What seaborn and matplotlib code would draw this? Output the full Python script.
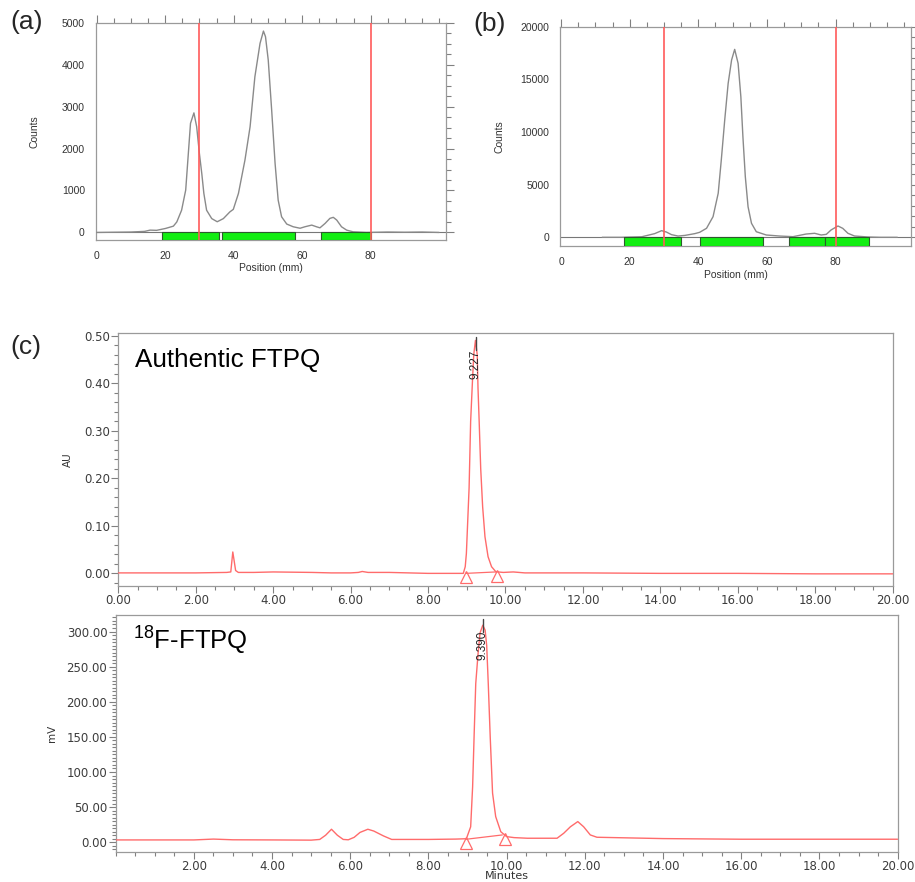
import numpy as np
import pandas as pd
import matplotlib
matplotlib.use("Agg")
import matplotlib.pyplot as plt
import seaborn as sns
from matplotlib.ticker import MultipleLocator, FixedLocator, FuncFormatter

# ---------------- data ----------------
# (a) radio-TLC scan
pos_a = [0, 5, 10, 14, 15.6, 17.5, 20.1, 22.4, 23.4, 24.8, 26.0, 27.4, 28.4, 29.2, 30.0,
         30.7, 31.3, 32.1, 33.6, 35.2, 37.0, 38.9, 39.9, 41.4, 43.3, 44.8, 46.2, 47.7,
         48.7, 49.3, 50.1, 51.1, 52.1, 53.0, 54.0, 55.5, 57.4, 59.4, 60.8, 62.8, 64.2,
         65.2, 66.7, 68.1, 69.1, 70.1, 71.5, 73.0, 74.9, 78.8, 85, 90, 95, 100]
counts_a = [0, 5, 10, 25, 55, 50, 95, 150, 250, 530, 1010, 2600, 2850, 2520, 1880,
            1400, 930, 530, 330, 255, 330, 490, 550, 930, 1725, 2520, 3710, 4505,
            4800, 4666, 4110, 2917, 1645, 770, 373, 200, 135, 100, 135, 175, 135,
            110, 215, 335, 360, 295, 135, 55, 15, 0, 10, 5, 10, 0]
bars_a_start = [19.1, 36.6, 65.4]
bars_a_end = [35.6, 58.0, 80.2]
red_a = [30, 80]

# (b) radio-TLC scan
pos_b = [12, 17.6, 23.5, 27.3, 29.3, 30.7, 32.2, 34.1, 36.1, 39.0, 40.4, 42.4, 44.3,
         45.8, 46.7, 47.7, 48.7, 49.7, 50.6, 51.6, 52.4, 53.0, 53.7, 54.5, 55.5, 56.9,
         59.8, 63.7, 67.6, 71.4, 73.9, 75.8, 77.3, 78.7, 80.7, 82.1, 83.6, 85.5, 89.4,
         93, 98]
counts_b = [0, 0, 50, 350, 630, 500, 250, 120, 180, 350, 475, 855, 1960, 4180, 7340,
            11140, 14620, 16840, 17850, 16520, 13350, 9550, 5760, 2900, 1330, 530, 220,
            120, 60, 310, 380, 220, 280, 700, 1075, 850, 380, 125, 30, 0, 0]
bars_b_start = [18.4, 40.6, 66.5, 77.0]
bars_b_end = [34.9, 58.9, 76.8, 89.6]
red_b = [30, 80]

tlc_xticks = [0, 20, 40, 60, 80]

# (c) HPLC, authentic FTPQ (UV)
t_auth = [0, 1, 2, 2.8, 2.905, 2.957, 3.0, 3.03, 3.10, 3.5, 4.0, 5.0, 5.5, 6.0, 6.2,
          6.3, 6.45, 7.0, 7.5, 8.0, 8.5, 8.91, 8.96, 8.99, 9.06, 9.10, 9.15, 9.18,
          9.224, 9.27, 9.29, 9.32, 9.36, 9.41, 9.47, 9.55, 9.64, 9.75, 9.94, 10.2,
          10.5, 12, 14, 16, 18, 20]
au = [0.001, 0.001, 0.001, 0.002, 0.003, 0.045, 0.022, 0.006, 0.002, 0.002, 0.003,
      0.002, 0.001, 0.001, 0.002, 0.004, 0.002, 0.002, 0.001, 0.0, 0.0, 0.0, 0.014,
      0.042, 0.18, 0.32, 0.41, 0.46, 0.49, 0.46, 0.39, 0.32, 0.22, 0.14, 0.077, 0.035,
      0.014, 0.0035, 0.002, 0.003, 0.001, 0.001, 0.0, 0.0, -0.001, -0.001]
auth_peak_rt = 9.227
auth_tri_x = [8.97, 9.78]
auth_tri_y = [-0.0084, -0.0056]
auth_base_x = [8.97, 9.75]
auth_base_y = [0.0, 0.003]
auth_yticks = [0.00, 0.10, 0.20, 0.30, 0.40, 0.50]

# (c) HPLC, 18F-FTPQ (radio)
t_rad = [0, 2.0, 2.5, 3.0, 4.0, 5.0, 5.22, 5.37, 5.52, 5.67, 5.82, 5.95, 6.1, 6.25,
         6.45, 6.6, 6.85, 7.06, 8.0, 8.7, 8.97, 9.08, 9.13, 9.17, 9.21, 9.27, 9.32,
         9.39, 9.45, 9.49, 9.53, 9.58, 9.64, 9.72, 9.85, 10.0, 10.19, 10.53, 11.29,
         11.46, 11.63, 11.82, 11.97, 12.14, 12.31, 14, 16, 18, 20]
mv = [3.3, 3.3, 4.5, 3.5, 3.3, 3.0, 4.0, 10, 18.5, 10, 4, 3.5, 7, 14, 18.5, 16, 9,
      4, 4, 4.5, 5, 22, 79, 155, 226, 269, 298, 309, 302, 280, 226, 150, 70, 36.5,
      15, 8, 6.6, 5.7, 5.7, 12.8, 22, 29.4, 22, 10.4, 7.1, 5.2, 4.3, 4.3, 4.3]
rad_peak_rt = 9.390
rad_tri_x = [8.97, 9.95]
rad_tri_y = [-1.4, 5.2]
rad_base_x = [8.97, 9.89]
rad_base_y = [4.3, 10.4]
rad_yticks = [0, 50, 100, 150, 200, 250, 300]

hplc_xticks_top = [0, 2, 4, 6, 8, 10, 12, 14, 16, 18, 20]
hplc_xticks_bot = [2, 4, 6, 8, 10, 12, 14, 16, 18, 20]

# ---------------- style ----------------
sns.set_theme(style="white")
plt.rcParams["font.family"] = ["Liberation Sans", "DejaVu Sans"]
plt.rcParams["mathtext.fontset"] = "custom"
plt.rcParams["mathtext.rm"] = "Liberation Sans"

GRAY_LINE = "#8a8a8a"
SPINE = "#9a9a9a"
RED_V = "#ff5a5a"
GREEN = "#12ee12"
GREEN_EDGE = "#2d5a2d"
HPLC_RED = "#ff6b6b"

fig = plt.figure(figsize=(9.15, 8.82), dpi=100)

ax_a = fig.add_axes([0.1049, 0.7279, 0.3825, 0.2464])
ax_b = fig.add_axes([0.6124, 0.7214, 0.3833, 0.2483])
ax_c1 = fig.add_axes([0.1293, 0.3359, 0.8463, 0.2868])
ax_c2 = fig.add_axes([0.1264, 0.0344, 0.8546, 0.2687])


def tlc_panel(ax, pos, counts, starts, ends, reds, ylo, yhi, ymaj, ymin, ylab_x, xlab_y):
    df = pd.DataFrame({"pos": pos, "counts": counts})
    ax.axhline(0, color="#777777", lw=0.8, zorder=1)
    sns.lineplot(data=df, x="pos", y="counts", ax=ax, color=GRAY_LINE, lw=1.0,
                 estimator=None, sort=False, zorder=3)
    widths = [e - s for s, e in zip(starts, ends)]
    ax.barh(y=[ylo / 2] * len(starts), width=widths, left=starts, height=-ylo,
            color=GREEN, edgecolor=GREEN_EDGE, linewidth=0.8, zorder=4)
    for r in reds:
        ax.axvline(r, color=RED_V, lw=1.2, zorder=5)
    ax.set_xlim(-0.2, 102)
    ax.set_ylim(ylo, yhi)
    ax.xaxis.set_major_locator(FixedLocator(tlc_xticks))
    ax.xaxis.set_minor_locator(MultipleLocator(5))
    ax.yaxis.set_major_locator(MultipleLocator(ymaj))
    ax.yaxis.set_minor_locator(MultipleLocator(ymin))
    ax.tick_params(which="both", direction="out", top=True, right=True,
                   color="#808080", width=0.8, labelsize=7.5, labelcolor="#333333",
                   pad=2)
    ax.tick_params(which="major", length=6)
    ax.tick_params(which="minor", length=3.5)
    for s in ax.spines.values():
        s.set_color(SPINE)
        s.set_linewidth(0.9)
    ax.set_xlabel("Position (mm)", fontsize=7.5, color="#333333")
    ax.set_ylabel("Counts", fontsize=7.5, color="#333333")
    ax.yaxis.set_label_coords(ylab_x, 0.5)
    ax.xaxis.set_label_coords(0.5, xlab_y)


tlc_panel(ax_a, pos_a, counts_a, bars_a_start, bars_a_end, red_a,
          -180, 5000, 1000, 250, -0.16, -0.105)
tlc_panel(ax_b, pos_b, counts_b, bars_b_start, bars_b_end, red_b,
          -800, 20000, 5000, 1000, -0.16, -0.11)


def hplc_panel(ax, t, y, rt, tri_x, tri_y, base_x, base_y, ylo, yhi, yticks, ymin,
               xticks, yfmt, label_lo, tick_lo, tick_hi, ylab, ylab_x):
    df = pd.DataFrame({"t": t, "y": y})
    sns.lineplot(data=df, x="t", y="y", ax=ax, color=HPLC_RED, lw=1.0,
                 estimator=None, sort=False, zorder=3)
    ax.plot(base_x, base_y, color=HPLC_RED, lw=0.9, zorder=3)
    ax.plot(tri_x, tri_y, ls="none", marker="^", mfc="none", mec=HPLC_RED,
            mew=0.9, ms=9, zorder=4)
    ax.plot([rt, rt], [tick_lo, tick_hi], color="#444444", lw=1.0, zorder=5)
    ax.text(rt, label_lo, f"{rt:.3f}", rotation=90, ha="center", va="bottom",
            fontsize=8.5, color="#222222",
            family=["Liberation Sans Narrow", "Liberation Sans", "DejaVu Sans"],
            zorder=6)
    ax.set_xlim(0, 20)
    ax.set_ylim(ylo, yhi)
    ax.xaxis.set_major_locator(FixedLocator(xticks))
    ax.xaxis.set_minor_locator(MultipleLocator(0.5))
    ax.xaxis.set_major_formatter(FuncFormatter(lambda v, p: f"{v:.2f}"))
    ax.yaxis.set_major_locator(FixedLocator(yticks))
    ax.yaxis.set_minor_locator(MultipleLocator(ymin))
    ax.yaxis.set_major_formatter(FuncFormatter(lambda v, p: yfmt.format(v)))
    ax.tick_params(which="both", direction="out", left=True, bottom=True,
                   top=False, right=False, color="#808080", width=0.8,
                   labelsize=8.5, labelcolor="#3c3c3c", pad=1)
    ax.tick_params(which="major", length=5)
    ax.tick_params(which="minor", length=3)
    for lab in ax.get_xticklabels() + ax.get_yticklabels():
        lab.set_family("DejaVu Sans")
    for s in ax.spines.values():
        s.set_color(SPINE)
        s.set_linewidth(0.9)
    ax.set_ylabel(ylab, fontsize=7.5, color="#333333", family="DejaVu Sans")
    ax.yaxis.set_label_coords(ylab_x, 0.5)


hplc_panel(ax_c1, t_auth, au, auth_peak_rt, auth_tri_x, auth_tri_y, auth_base_x,
           auth_base_y, -0.026, 0.506, auth_yticks, 0.02, hplc_xticks_top, "{:.2f}",
           0.409, 0.470, 0.497, "AU", -0.058)
ax_c1.set_xlabel("")
ax_c1.text(0.0216, 0.8656, "Authentic FTPQ", transform=ax_c1.transAxes,
           fontsize=18.7, ha="left", va="baseline", color="black")

hplc_panel(ax_c2, t_rad, mv, rad_peak_rt, rad_tri_x, rad_tri_y, rad_base_x,
           rad_base_y, -13.4, 324, rad_yticks, 5, hplc_xticks_bot, "{:.2f}",
           259, 299, 318, "mV", -0.075)
ax_c2.set_xlabel("Minutes", fontsize=8, color="#333333", family="DejaVu Sans")
ax_c2.xaxis.set_label_coords(0.5, -0.083)
ax_c2.text(0.022, 0.854, r"$\mathregular{^{18}}$F-FTPQ", transform=ax_c2.transAxes,
           fontsize=18.5, ha="left", va="baseline", color="black")

# panel letters
fig.text(10 / 915, 1 - 22 / 882, "(a)", fontsize=19, va="center", ha="left")
fig.text(473 / 915, 1 - 24 / 882, "(b)", fontsize=19, va="center", ha="left")
fig.text(10 / 915, 1 - 347 / 882, "(c)", fontsize=19, va="center", ha="left")

fig.savefig("out.png", dpi=100, facecolor="white")
